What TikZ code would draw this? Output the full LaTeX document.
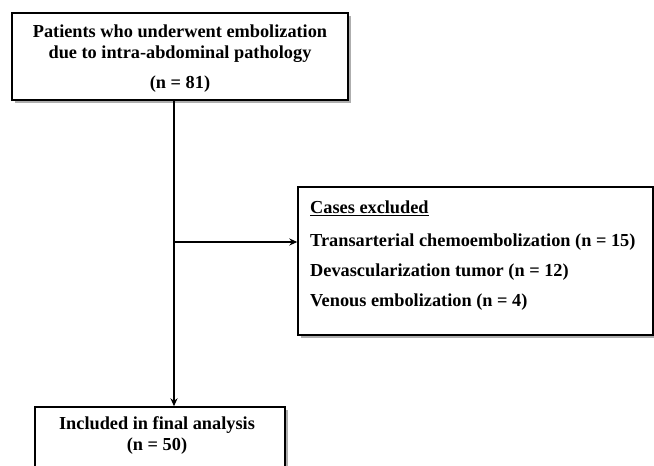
\documentclass[tikz,border=0pt]{standalone}
\usepackage{fontspec}
\setmainfont{Liberation Serif}
\usetikzlibrary{shadows,arrows.meta}
\tikzset{
  box/.style={draw=black, line width=1.4pt, fill=white, rectangle, inner sep=0pt,
    drop shadow={shadow xshift=3pt, shadow yshift=-3pt, fill=black!45, opacity=0.7}},
  txt/.style={font=\fontsize{18.3}{21}\selectfont\bfseries, inner sep=0pt},
  conn/.style={line width=1.4pt, -{Stealth[length=8pt,width=7pt]}},
}
\begin{document}
\begin{tikzpicture}[x=1pt,y=-1pt]
\clip (0,0) rectangle (654,466);
\useasboundingbox (0,0) rectangle (654,466);
% boxes
\node[box, minimum width=336pt, minimum height=87pt] (top) at (180,56.5) {};
\node[box, minimum width=355pt, minimum height=148pt] (excl) at (475.5,261) {};
\node[box, minimum width=250pt, minimum height=80pt] (incl) at (160,447) {};
% texts
\node[txt] (t1) at (180,31) {Patients who underwent embolization};
\node[txt] (t2) at (180,54) {due to intra-abdominal pathology};
\node[txt] (t3) at (180,84) {(n = 81)};
\node[txt, anchor=west] (e1) at (310,208) {\underline{Cases excluded}};
\node[txt, anchor=west] (e2) at (310,242) {Transarterial chemoembolization (n = 15)};
\node[txt, anchor=west] (e3) at (310,272) {Devascularization tumor (n = 12)};
\node[txt, anchor=west] (e4) at (310,302) {Venous embolization (n = 4)};
\node[txt] (i1) at (157,425) {Included in final analysis};
\node[txt] (i2) at (157,446) {(n = 50)};
% connectors
\coordinate (branch) at (174,242);
\draw[conn] (top.south -| branch) -- (incl.north -| branch);
\draw[conn] (branch) -- (branch -| excl.west);
\end{tikzpicture}
\end{document}
